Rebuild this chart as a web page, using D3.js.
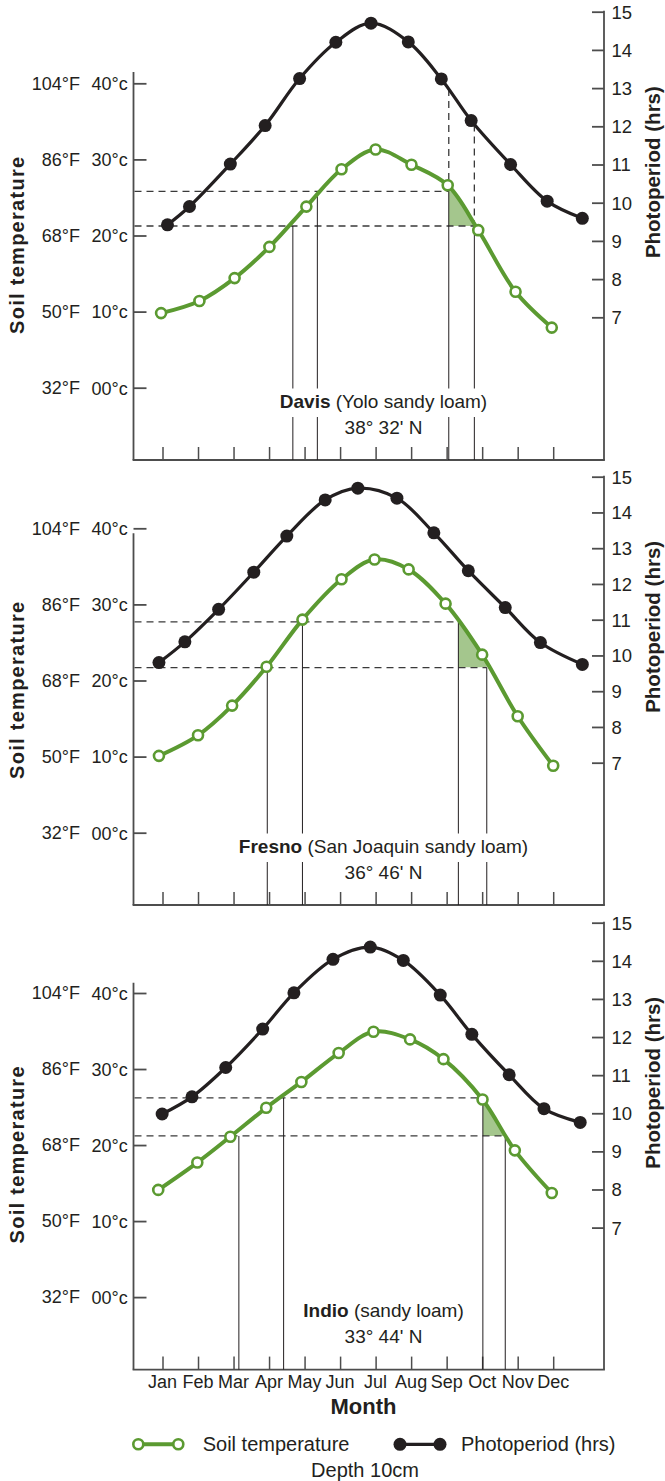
<!DOCTYPE html>
<html><head><meta charset="utf-8">
<script src="https://cdn.jsdelivr.net/npm/d3@7"></script>
<style>
body{margin:0;background:#fff}
svg{display:block}
text{font-family:"Liberation Sans",Arial,sans-serif;fill:#231f20}
</style>
</head><body>
<svg id="c" width="665" height="1481"></svg>
<script>
// ---------- data ----------
const months = ["Jan","Feb","Mar","Apr","May","Jun","Jul","Aug","Sep","Oct","Nov","Dec"];
const tempTicksC = [0, 10, 20, 30, 40];
const tempLabelsF = ["32°F", "50°F", "68°F", "86°F", "104°F"];
const tempLabelsC = ["00°c", "10°c", "20°c", "30°c", "40°c"];
const hourTicks = [7, 8, 9, 10, 11, 12, 13, 14, 15];

// Davis (month index, 0 = Jan)
const davisSoilMonth = [-0.04, 1.04, 2.03, 3.01, 4.05, 5.04, 6.0, 7.01, 8.03, 8.89, 9.94, 10.96];
const davisSoilTemp = [9.8, 11.4, 14.4, 18.5, 23.8, 28.7, 31.3, 29.3, 26.6, 20.7, 12.6, 7.9];
const davisPhotoMonth = [0.14, 0.76, 1.91, 2.89, 3.86, 4.88, 5.87, 6.92, 7.85, 8.69, 9.80, 10.83, 11.82];
const davisPhotoHrs = [9.42, 9.90, 11.01, 12.02, 13.25, 14.20, 14.70, 14.21, 13.24, 12.15, 11.0, 10.04, 9.59];
const davisGuideTemps = [25.8, 21.25];      // upper, lower
const davisSpringMonths = [4.36, 3.67];     // upper, lower
const davisFallMonths = [8.06, 8.78];       // upper, lower

// Fresno
const fresnoSoilMonth = [-0.10, 1.0, 1.96, 2.93, 3.94, 5.04, 5.97, 6.93, 7.97, 9.0, 10.0, 11.0];
const fresnoSoilTemp = [10.1, 12.8, 16.7, 21.8, 28.0, 33.3, 35.9, 34.6, 30.1, 23.4, 15.3, 8.8];
const fresnoPhotoMonth = [-0.10, 0.63, 1.58, 2.57, 3.50, 4.58, 5.50, 6.60, 7.64, 8.61, 9.65, 10.64, 11.82];
const fresnoPhotoHrs = [9.80, 10.38, 11.29, 12.33, 13.34, 14.35, 14.68, 14.40, 13.43, 12.37, 11.34, 10.36, 9.75];
const fresnoGuideTemps = [27.7, 21.7];
const fresnoSpringMonths = [3.94, 2.95];
const fresnoFallMonths = [8.33, 9.13];

// Indio
const indioSoilMonth = [-0.12, 0.98, 1.91, 2.92, 3.91, 4.96, 5.94, 6.97, 7.91, 9.01, 9.92, 10.96];
const indioSoilTemp = [14.1, 17.7, 21.1, 24.9, 28.3, 32.1, 34.9, 33.9, 31.3, 26.0, 19.3, 13.7];
const indioPhotoMonth = [-0.01, 0.83, 1.78, 2.82, 3.70, 4.80, 5.85, 6.78, 7.82, 8.71, 9.76, 10.74, 11.76];
const indioPhotoHrs = [9.98, 10.43, 11.20, 12.21, 13.16, 14.04, 14.36, 14.01, 13.10, 12.07, 11.01, 10.12, 9.76];
const indioGuideTemps = [26.2, 21.2];
const indioSpringMonths = [3.41, 2.15];
const indioFallMonths = [9.02, 9.65];

const siteNames = ["Davis", "Fresno", "Indio"];
const siteSoils = [" (Yolo sandy loam)", " (San Joaquin sandy loam)", " (sandy loam)"];
const siteLatitudes = ["38° 32' N", "36° 46' N", "33° 44' N"];

// ---------- layout ----------
const GREEN = "#5b9a31", SHADE = "#a4c68d", INK = "#231f20", AXIS = "#4d4d4d", DASH = "#3a3a3a";
const plotLeft = 133.5, plotRight = 604;
const x = d3.scaleLinear().domain([0, 11]).range([162.5, 553.2]);
const layouts = [
  {y0: 387.7, y40: 83.3, h7: 317.3, h15: 11.7, bottom: 460, axisTop: 72, dashToPhoto: true},
  {y0: 832.7, y40: 528.3, h7: 762.7, h15: 476.7, bottom: 905, axisTop: 533.3, dashToPhoto: false},
  {y0: 1297.1, y40: 993, h7: 1227.6, h15: 922.7, bottom: 1369.6, axisTop: 982.8, dashToPhoto: false}
];
const panelData = [
  {soilM: davisSoilMonth, soilT: davisSoilTemp, photoM: davisPhotoMonth, photoH: davisPhotoHrs,
   guide: davisGuideTemps, spring: davisSpringMonths, fall: davisFallMonths},
  {soilM: fresnoSoilMonth, soilT: fresnoSoilTemp, photoM: fresnoPhotoMonth, photoH: fresnoPhotoHrs,
   guide: fresnoGuideTemps, spring: fresnoSpringMonths, fall: fresnoFallMonths},
  {soilM: indioSoilMonth, soilT: indioSoilTemp, photoM: indioPhotoMonth, photoH: indioPhotoHrs,
   guide: indioGuideTemps, spring: indioSpringMonths, fall: indioFallMonths}
];

const svg = d3.select("#c");
const curve = d3.curveCatmullRom.alpha(0.5);
const GR = 5, GSW = 2.6, BR = 6.5;

function yAtX(node, xt) {
  let lo = 0, hi = node.getTotalLength();
  for (let k = 0; k < 40; k++) {
    const mid = (lo + hi) / 2;
    if (node.getPointAtLength(mid).x < xt) lo = mid; else hi = mid;
  }
  return node.getPointAtLength((lo + hi) / 2).y;
}

panelData.forEach((p, pi) => {
  const L = layouts[pi];
  const g = svg.append("g");
  const yT = d3.scaleLinear().domain([0, 40]).range([L.y0, L.y40]);
  const yH = d3.scaleLinear().domain([7, 15]).range([L.h7, L.h15]);
  const soil = p.soilM.map((m, i) => ({m, v: p.soilT[i]}));
  const photo = p.photoM.map((m, i) => ({m, v: p.photoH[i]}));
  const soilLine = d3.line().x(d => x(d.m)).y(d => yT(d.v)).curve(curve);
  const photoLine = d3.line().x(d => x(d.m)).y(d => yH(d.v)).curve(curve);

  // ----- axes -----
  const la = g.append("g").attr("transform", `translate(${plotLeft},0)`)
    .call(d3.axisRight(yT).tickValues(tempTicksC).tickSize(13).tickFormat((d, i) => tempLabelsC[i]));
  la.select(".domain").remove();
  la.selectAll("line").attr("stroke", AXIS).attr("stroke-width", 1.8);
  la.selectAll("text").attr("x", -5.8).attr("text-anchor", "end").attr("dy", "0.35em")
    .style("font-size", "18px").attr("fill", INK);
  g.append("g").selectAll("text").data(tempTicksC).join("text")
    .attr("x", 80).attr("y", d => yT(d)).attr("dy", "0.35em").attr("text-anchor", "end")
    .style("font-size", "18px").text((d, i) => tempLabelsF[i]);
  g.append("line").attr("x1", plotLeft).attr("x2", plotLeft).attr("y1", L.axisTop).attr("y2", L.bottom)
    .attr("stroke", AXIS).attr("stroke-width", 1.8);

  const ra = g.append("g").attr("transform", `translate(${plotRight},0)`)
    .call(d3.axisLeft(yH).tickValues(hourTicks).tickSize(12));
  ra.select(".domain").remove();
  ra.selectAll("line").attr("stroke", AXIS).attr("stroke-width", 1.8);
  ra.selectAll("text").attr("x", 7.5).attr("text-anchor", "start").attr("dy", "0.35em")
    .style("font-size", "18.5px").attr("fill", INK);
  g.append("line").attr("x1", plotRight).attr("x2", plotRight).attr("y1", yH(15) - 0.9).attr("y2", L.bottom)
    .attr("stroke", AXIS).attr("stroke-width", 1.8);

  const ba = g.append("g").attr("transform", `translate(0,${L.bottom})`)
    .call(d3.axisTop(x).tickValues(d3.range(12)).tickSize(13).tickFormat(""));
  ba.select(".domain").remove();
  ba.selectAll("line").attr("stroke", AXIS).attr("stroke-width", 1.5);
  g.append("line").attr("x1", plotLeft - 0.9).attr("x2", plotRight + 0.9).attr("y1", L.bottom).attr("y2", L.bottom)
    .attr("stroke", AXIS).attr("stroke-width", 1.8);

  // axis titles
  g.append("text").attr("transform", `translate(24,${yT(18.7)}) rotate(-90)`)
    .attr("text-anchor", "middle").style("font-size", "20px").style("font-weight", "bold")
    .attr("textLength", 177).text("Soil temperature");
  g.append("text").attr("transform", `translate(660,${yH(10.8)}) rotate(-90)`)
    .attr("text-anchor", "middle").style("font-size", "20.5px").style("font-weight", "bold")
    .text("Photoperiod (hrs)");

  // ----- guides -----
  const yU = yT(p.guide[0]), yLo = yT(p.guide[1]);
  const clipId = "clip" + pi;
  svg.append("defs").append("clipPath").attr("id", clipId).append("rect")
    .attr("x", x(p.fall[0])).attr("y", yU)
    .attr("width", x(p.fall[1]) - x(p.fall[0])).attr("height", yLo - yU);
  g.append("path").datum(soil)
    .attr("clip-path", `url(#${clipId})`)
    .attr("fill", SHADE)
    .attr("d", d3.area().x(d => x(d.m)).y0(yLo).y1(d => yT(d.v)).curve(curve));

  const dashed = [
    {x1: plotLeft + 1, x2: x(p.fall[0]), y: yU},
    {x1: plotLeft + 1, x2: x(p.fall[1]), y: yLo}
  ];
  g.append("g").selectAll("line").data(dashed).join("line")
    .attr("x1", d => d.x1).attr("x2", d => d.x2).attr("y1", d => d.y).attr("y2", d => d.y)
    .attr("stroke", DASH).attr("stroke-width", 1.3).attr("stroke-dasharray", "7,5");

  const verts = [
    {m: p.spring[0], y: yU}, {m: p.spring[1], y: yLo},
    {m: p.fall[0], y: yU}, {m: p.fall[1], y: yLo}
  ];
  g.append("g").selectAll("line").data(verts).join("line")
    .attr("x1", d => x(d.m)).attr("x2", d => x(d.m)).attr("y1", d => d.y).attr("y2", L.bottom)
    .attr("stroke", INK).attr("stroke-width", 1);

  // site label with white backing on first line
  const lab = g.append("g");
  const baseY = L.bottom - 52.5;
  const t1 = lab.append("text").attr("x", 383.5).attr("y", baseY).attr("text-anchor", "middle")
    .style("font-size", "19px");
  t1.append("tspan").style("font-weight", "bold").text(siteNames[pi]);
  t1.append("tspan").text(siteSoils[pi]);
  const bb = t1.node().getBBox();
  lab.insert("rect", "text").attr("x", bb.x - 3).attr("width", bb.width + 6)
    .attr("y", baseY - 19).attr("height", 28.5).attr("fill", "#fff");
  lab.append("text").attr("x", 383.5).attr("y", L.bottom - 26.5).attr("text-anchor", "middle")
    .style("font-size", "19px").text(siteLatitudes[pi]);

  // ----- series -----
  const photoPath = g.append("path").datum(photo).attr("fill", "none").attr("stroke", INK)
    .attr("stroke-width", 3.2).attr("d", photoLine);
  g.append("path").datum(soil).attr("fill", "none").attr("stroke", GREEN)
    .attr("stroke-width", 4).attr("d", soilLine);

  if (L.dashToPhoto) {
    const pv = [{m: p.fall[0], y: yU}, {m: p.fall[1], y: yLo}];
    g.insert("g", "path").selectAll("line").data(pv).join("line")
      .attr("x1", d => x(d.m)).attr("x2", d => x(d.m))
      .attr("y1", d => yAtX(photoPath.node(), x(d.m))).attr("y2", d => d.y)
      .attr("stroke", DASH).attr("stroke-width", 1.3).attr("stroke-dasharray", "7,5");
  }

  g.append("g").selectAll("circle").data(photo).join("circle")
    .attr("cx", d => x(d.m)).attr("cy", d => yH(d.v)).attr("r", BR).attr("fill", INK);
  g.append("g").selectAll("circle").data(soil).join("circle")
    .attr("cx", d => x(d.m)).attr("cy", d => yT(d.v)).attr("r", GR)
    .attr("fill", "#fff").attr("stroke", GREEN).attr("stroke-width", GSW);
});

// ----- month labels and x title (bottom panel) -----
svg.append("g").selectAll("text").data(months).join("text")
  .attr("x", (d, i) => x(i)).attr("y", 1388).attr("text-anchor", "middle")
  .style("font-size", "18px").text(d => d);
svg.append("text").attr("x", 363.5).attr("y", 1413.5).attr("text-anchor", "middle")
  .style("font-size", "22px").style("font-weight", "bold").text("Month");

// ----- legend -----
const legendItems = [
  {label: "Soil temperature", x1: 138.3, x2: 178.3, tx: 202.7, color: GREEN, open: true},
  {label: "Photoperiod (hrs)", x1: 400, x2: 440, tx: 461, color: INK, open: false}
];
const lg = svg.append("g");
legendItems.forEach(it => {
  lg.append("line").attr("x1", it.x1).attr("x2", it.x2).attr("y1", 1444.3).attr("y2", 1444.3)
    .attr("stroke", it.color).attr("stroke-width", it.open ? 4 : 3.2);
  lg.selectAll(null).data([it.x1, it.x2]).join("circle")
    .attr("cx", d => d).attr("cy", 1444.3).attr("r", it.open ? GR : BR)
    .attr("fill", it.open ? "#fff" : INK).attr("stroke", it.open ? GREEN : "none")
    .attr("stroke-width", GSW);
  lg.append("text").attr("x", it.tx).attr("y", 1451).style("font-size", "20px").text(it.label);
});
lg.append("text").attr("x", 365).attr("y", 1476.5).attr("text-anchor", "middle")
  .style("font-size", "20px").text("Depth 10cm");
</script>
</body></html>
